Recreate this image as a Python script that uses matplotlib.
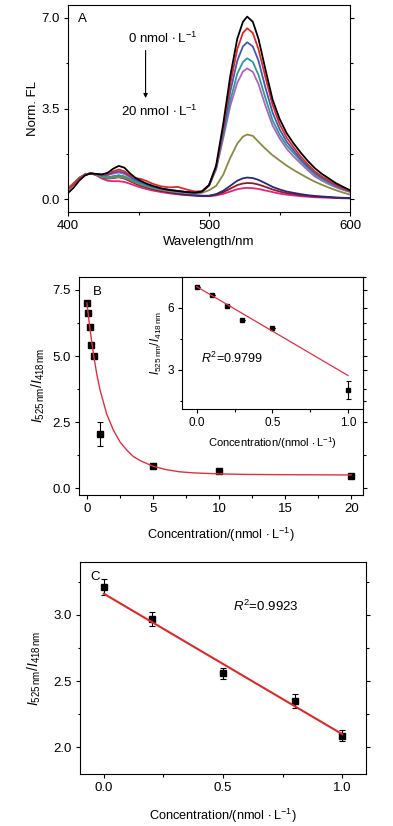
import numpy as np
import matplotlib
matplotlib.use("Agg")
import matplotlib.pyplot as plt
from matplotlib.ticker import MultipleLocator, FormatStrFormatter

plt.rcParams['font.family'] = ['Liberation Sans', 'DejaVu Sans']
plt.rcParams['mathtext.fontset'] = 'custom'
plt.rcParams['mathtext.rm'] = 'Liberation Sans'
plt.rcParams['mathtext.it'] = 'Liberation Sans:italic'
plt.rcParams['font.size'] = 9.5
plt.rcParams['axes.linewidth'] = 0.8

# ---------------- panel A : spectra ----------------
wl = [400, 404, 408, 412, 416, 420, 424, 428, 432, 436, 440, 444, 448, 452, 456, 460,
      466, 472, 478, 484, 490, 495, 500, 505, 510, 515, 520, 524, 527, 531, 535, 540,
      545, 550, 555, 560, 565, 570, 575, 580, 585, 590, 595, 600]

fl_black = [0.24, 0.45, 0.72, 0.92, 1.0, 0.98, 0.96, 1.02, 1.18, 1.29, 1.22, 1.0, 0.82, 0.7, 0.6, 0.52,
            0.42, 0.36, 0.32, 0.28, 0.26, 0.30, 0.55, 1.30, 2.90, 4.75, 6.20, 6.85, 7.05, 6.85, 6.20, 5.00,
            3.85, 3.10, 2.55, 2.15, 1.80, 1.48, 1.20, 0.98, 0.80, 0.62, 0.48, 0.35]
fl_red = [0.38, 0.58, 0.8, 0.95, 1.0, 0.98, 0.95, 0.98, 1.08, 1.15, 1.08, 0.92, 0.82, 0.78, 0.7, 0.6,
          0.5, 0.46, 0.48, 0.38, 0.3, 0.32, 0.55, 1.25, 2.75, 4.45, 5.8, 6.42, 6.6, 6.42, 5.8, 4.7,
          3.65, 2.9, 2.38, 2.0, 1.65, 1.35, 1.08, 0.88, 0.72, 0.56, 0.43, 0.32]
fl_blue = [0.38, 0.58, 0.8, 0.95, 1.0, 0.97, 0.93, 0.95, 1.03, 1.08, 1.02, 0.88, 0.75, 0.66, 0.57, 0.5,
           0.42, 0.36, 0.32, 0.28, 0.25, 0.3, 0.55, 1.22, 2.6, 4.15, 5.35, 5.9, 6.06, 5.9, 5.35, 4.3,
           3.35, 2.7, 2.22, 1.88, 1.55, 1.27, 1.02, 0.84, 0.68, 0.53, 0.41, 0.31]
fl_teal = [0.4, 0.6, 0.82, 0.95, 1.0, 0.96, 0.88, 0.85, 0.88, 0.92, 0.88, 0.78, 0.68, 0.6, 0.53, 0.47,
           0.4, 0.36, 0.32, 0.28, 0.25, 0.3, 0.55, 1.2, 2.45, 3.8, 4.85, 5.3, 5.44, 5.3, 4.8, 3.9,
           3.05, 2.5, 2.08, 1.78, 1.48, 1.2, 0.95, 0.78, 0.63, 0.5, 0.39, 0.3]
fl_violet = [0.38, 0.58, 0.8, 0.95, 1.0, 0.97, 0.92, 0.93, 0.99, 1.03, 0.98, 0.85, 0.72, 0.63, 0.55, 0.48,
             0.4, 0.34, 0.3, 0.26, 0.24, 0.28, 0.52, 1.15, 2.35, 3.6, 4.5, 4.93, 5.05, 4.92, 4.45, 3.6,
             2.85, 2.35, 1.95, 1.65, 1.38, 1.12, 0.88, 0.72, 0.58, 0.46, 0.36, 0.28]
fl_olive = [0.42, 0.62, 0.83, 0.96, 1.0, 0.95, 0.86, 0.82, 0.84, 0.86, 0.83, 0.74, 0.64, 0.56, 0.49, 0.43,
            0.36, 0.31, 0.27, 0.24, 0.22, 0.25, 0.35, 0.52, 0.95, 1.6, 2.15, 2.42, 2.5, 2.45, 2.22, 1.95,
            1.7, 1.5, 1.3, 1.13, 0.97, 0.82, 0.68, 0.56, 0.45, 0.35, 0.26, 0.18]
fl_navy = [0.4, 0.6, 0.82, 0.95, 1.0, 0.96, 0.88, 0.84, 0.88, 0.92, 0.87, 0.76, 0.65, 0.56, 0.48, 0.42,
           0.34, 0.28, 0.23, 0.19, 0.16, 0.14, 0.14, 0.2, 0.33, 0.52, 0.72, 0.81, 0.84, 0.82, 0.75, 0.62,
           0.48, 0.38, 0.3, 0.25, 0.2, 0.16, 0.13, 0.11, 0.09, 0.07, 0.06, 0.05]
fl_wine = [0.4, 0.6, 0.82, 0.95, 1.0, 0.95, 0.85, 0.8, 0.82, 0.85, 0.8, 0.7, 0.6, 0.52, 0.45, 0.39,
           0.32, 0.26, 0.21, 0.17, 0.15, 0.13, 0.13, 0.18, 0.27, 0.41, 0.55, 0.61, 0.63, 0.62, 0.57, 0.48,
           0.38, 0.3, 0.24, 0.2, 0.16, 0.13, 0.11, 0.09, 0.08, 0.06, 0.05, 0.04]
fl_magenta = [0.42, 0.62, 0.83, 0.96, 1.0, 0.93, 0.8, 0.72, 0.7, 0.7, 0.67, 0.6, 0.52, 0.45, 0.39, 0.34,
              0.28, 0.23, 0.19, 0.16, 0.14, 0.12, 0.12, 0.15, 0.21, 0.3, 0.39, 0.43, 0.44, 0.43, 0.4, 0.34,
              0.28, 0.22, 0.18, 0.15, 0.12, 0.1, 0.08, 0.07, 0.06, 0.05, 0.04, 0.04]

spectra = [fl_magenta, fl_wine, fl_navy, fl_olive, fl_violet, fl_teal, fl_blue, fl_red, fl_black]
spec_colors = ['#e4247a', '#8e1b25', '#27287f', '#8a8a40', '#b263c2', '#2c9a98', '#4358b0', '#e4262c', '#000000']

# ---------------- panel B : ratio vs concentration ----------------
conc_b = [0, 0.1, 0.2, 0.3, 0.5, 1, 5, 10, 20]
ratio_b = [7.02, 6.62, 6.1, 5.43, 5.0, 2.05, 0.84, 0.65, 0.47]
err_b = [0.05, 0.06, 0.05, 0.05, 0.05, 0.45, 0.05, 0.04, 0.04]
curve_x = [0, 0.25, 0.5, 0.75, 1, 1.5, 2, 2.5, 3, 3.5, 4, 5, 6, 7, 8, 10, 12, 15, 20]
curve_y = [7.0, 5.95, 5.05, 4.3, 3.7, 2.8, 2.2, 1.75, 1.45, 1.2, 1.05, 0.83, 0.7, 0.62, 0.58,
           0.54, 0.52, 0.51, 0.5]

conc_in = [0, 0.1, 0.2, 0.3, 0.5, 1.0]
ratio_in = [7.02, 6.63, 6.1, 5.43, 5.0, 2.05]
err_in = [0.0, 0.0, 0.0, 0.0, 0.0, 0.43]
fit_in_x = [0, 1.0]
fit_in_y = [7.02, 2.73]

# ---------------- panel C : linear range ----------------
conc_c = [0, 0.2, 0.5, 0.8, 1.0]
ratio_c = [3.21, 2.97, 2.56, 2.35, 2.09]
err_c = [0.06, 0.05, 0.04, 0.05, 0.04]
fit_c_x = [0, 1.0]
fit_c_y = [3.16, 2.10]

conc_label = 'Concentration/(nmol$\\,\\cdot$L$^{-1}$)'
ratio_label = '$I_{\\rm 525\\,nm}/I_{\\rm 418\\,nm}$'

fig = plt.figure(figsize=(3.93, 8.26), dpi=100)


def style(ax):
    ax.tick_params(which='both', direction='out', top=False, right=True, labelright=False)
    ax.tick_params(which='major', length=3.2, width=0.8, pad=2.5)
    ax.tick_params(which='minor', length=1.8, width=0.8)


# A
axA = fig.add_axes([0.173, 0.743, 0.718, 0.251])
for s, c in zip(spectra, spec_colors):
    axA.plot(wl, s, color=c, lw=1.3)
axA.set_xlim(400, 600)
axA.set_ylim(-0.5, 7.5)
axA.xaxis.set_major_locator(MultipleLocator(100))
axA.xaxis.set_minor_locator(MultipleLocator(50))
axA.yaxis.set_major_locator(MultipleLocator(3.5))
axA.yaxis.set_minor_locator(MultipleLocator(1.75))
axA.yaxis.set_major_formatter(FormatStrFormatter('%.1f'))
style(axA)
axA.set_xlabel('Wavelength/nm', labelpad=3)
axA.set_ylabel('Norm. FL', labelpad=2)
axA.text(0.035, 0.93, 'A', transform=axA.transAxes, ha='left', va='center')
axA.text(467, 6.2, '0 nmol$\\,\\cdot$L$^{-1}$', ha='center', va='center')
axA.text(465, 3.4, '20 nmol$\\,\\cdot$L$^{-1}$', ha='center', va='center')
axA.annotate('', xy=(455, 3.8), xytext=(455, 5.85),
             arrowprops=dict(arrowstyle='-|>', lw=0.8, color='black', mutation_scale=6))

# B
axB = fig.add_axes([0.201, 0.401, 0.723, 0.264])
axB.plot(curve_x, curve_y, color='#e03040', lw=1.0, zorder=3)
axB.errorbar(conc_b, ratio_b, yerr=err_b, fmt='s', color='black', ms=4.2, capsize=2,
             elinewidth=0.8, capthick=0.8, zorder=2)
axB.set_xlim(-0.6, 20.9)
axB.set_ylim(-0.25, 8.0)
axB.xaxis.set_major_locator(MultipleLocator(5))
axB.xaxis.set_minor_locator(MultipleLocator(2.5))
axB.yaxis.set_major_locator(MultipleLocator(2.5))
axB.yaxis.set_minor_locator(MultipleLocator(1.25))
axB.yaxis.set_major_formatter(FormatStrFormatter('%.1f'))
style(axB)
axB.set_xlabel(conc_label, labelpad=8, fontsize=9.2)
axB.set_ylabel(ratio_label, labelpad=4, fontsize=10)
axB.text(0.05, 0.93, 'B', transform=axB.transAxes, ha='left', va='center')

# inset
axI = fig.add_axes([0.462, 0.5045, 0.462, 0.1605])
axI.plot(fit_in_x, fit_in_y, color='#e03040', lw=0.9, zorder=3)
axI.errorbar(conc_in, ratio_in, yerr=err_in, fmt='s', color='black', ms=2.8, capsize=1.8,
             elinewidth=0.8, capthick=0.8, zorder=2)
axI.set_xlim(-0.1, 1.1)
axI.set_ylim(1.1, 7.5)
axI.xaxis.set_major_locator(MultipleLocator(0.5))
axI.xaxis.set_minor_locator(MultipleLocator(0.25))
axI.yaxis.set_major_locator(MultipleLocator(3))
axI.yaxis.set_minor_locator(MultipleLocator(1.5))
axI.xaxis.set_major_formatter(FormatStrFormatter('%.1f'))
style(axI)
axI.tick_params(labelsize=8.5)
axI.set_xlabel(conc_label, labelpad=4, fontsize=8)
axI.set_ylabel(ratio_label, labelpad=2, fontsize=8.5)
axI.text(0.03, 3.57, '$R^2$=0.9799', ha='left', va='center', fontsize=9)

# C
axC = fig.add_axes([0.2036, 0.063, 0.728, 0.2567])
axC.plot(fit_c_x, fit_c_y, color='#dc2a2a', lw=1.5, zorder=3)
axC.errorbar(conc_c, ratio_c, yerr=err_c, fmt='s', color='black', ms=3.8, capsize=2,
             elinewidth=0.8, capthick=0.8, zorder=2)
axC.set_xlim(-0.1, 1.1)
axC.set_ylim(1.8, 3.4)
axC.xaxis.set_major_locator(MultipleLocator(0.5))
axC.xaxis.set_minor_locator(MultipleLocator(0.25))
axC.yaxis.set_major_locator(MultipleLocator(0.5))
axC.yaxis.set_minor_locator(MultipleLocator(0.25))
axC.xaxis.set_major_formatter(FormatStrFormatter('%.1f'))
axC.yaxis.set_major_formatter(FormatStrFormatter('%.1f'))
style(axC)
axC.set_xlabel(conc_label, labelpad=9, fontsize=9.2)
axC.set_ylabel(ratio_label, labelpad=8, fontsize=10)
axC.text(0.035, 0.93, 'C', transform=axC.transAxes, ha='left', va='center')
axC.text(0.54, 3.065, '$R^2$=0.9923', ha='left', va='center')

fig.savefig('out.png', dpi=100)
